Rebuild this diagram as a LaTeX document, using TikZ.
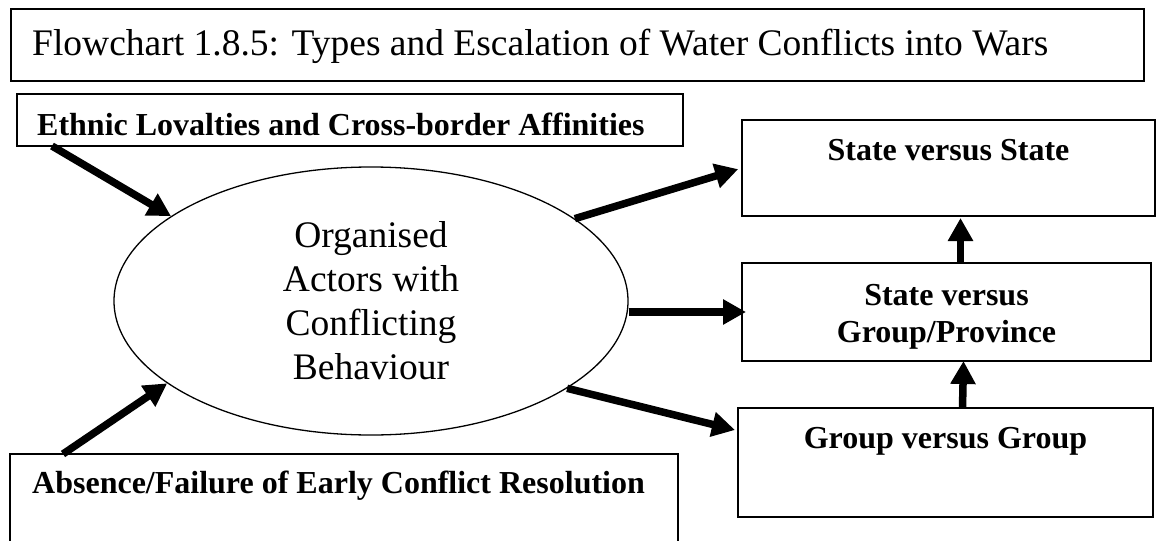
\documentclass[tikz,border=0pt]{standalone}
\usepackage{fontspec}
\setmainfont{Liberation Serif}
\usetikzlibrary{arrows.meta,shapes.geometric,calc}
\begin{document}
\begin{tikzpicture}[x=1pt,y=-1pt,
  boxnode/.style={draw, line width=1.8pt, rectangle, inner sep=0pt, outer sep=0pt, anchor=north west},
  boldtext/.style={font=\fontsize{32}{37}\selectfont\bfseries, inner sep=0pt, anchor=base},
  thickarrow/.style={line width=7.5pt, -{Triangle[length=23pt,width=24pt]}},
]
\fill[white] (0,0) rectangle (1157,541);
\useasboundingbox (0,0) rectangle (1157,541);

% title
\node[boxnode, minimum width=1133pt, minimum height=72pt] (title) at (11,9) {};
\node[anchor=base west, inner sep=0pt, font=\fontsize{37.5}{43}\selectfont] (titletxt) at (32,55) {Flowchart 1.8.5: Types and Escalation of Water Conflicts into Wars};

% left boxes
\node[boxnode, minimum width=666pt, minimum height=52pt] (eth) at (17,94) {};
\node[boldtext, anchor=base west] (ethtxt) at (37,135) {Ethnic Lovalties and Cross-border Affinities};
\node[boxnode, minimum width=668pt, minimum height=110pt] (abs) at (10,454) {};
\node[boldtext, anchor=base west] (abstxt) at (32,493) {Absence/Failure of Early Conflict Resolution};

% right boxes
\node[boxnode, minimum width=413pt, minimum height=96pt] (svs) at (742,120) {};
\node[boldtext] (svstxt) at (948.5,160) {State versus State};
\node[boxnode, minimum width=409pt, minimum height=98pt] (svg) at (742,263) {};
\node[boldtext] (svgtxta) at (946.5,305) {State versus};
\node[boldtext] (svgtxtb) at (946.5,342) {Group/Province};
\node[boxnode, minimum width=415pt, minimum height=109pt] (gvg) at (738,408) {};
\node[boldtext] (gvgtxt) at (945.5,448) {Group versus Group};

% ellipse
\node[ellipse, draw, line width=1.3pt, minimum width=514pt, minimum height=268pt, inner sep=0pt, align=center, font=\fontsize{37.5}{44}\selectfont] (ell) at (371,301) {Organised\\Actors with\\Conflicting\\Behaviour};

% connectors
\coordinate (ethout) at ($(eth.south west)+(35,0)$);
\draw[thickarrow] (ethout) -- (ell.157);
\coordinate (absout) at ($(abs.north west)+(53,0)$);
\draw[thickarrow] (absout) -- (ell.202);
\draw[thickarrow, shorten >=4pt] (ell.22) -- (svs.west);
\draw[thickarrow, shorten >=-4pt] (ell.east |- svg.west) -- (svg.west);
\coordinate (gvgin) at ($(gvg.north west)+(-3,22)$);
\draw[thickarrow] (ell.-24) -- (gvgin);
\draw[thickarrow] ([xshift=14pt]svg.north) -- ([xshift=12pt,yshift=-2pt]svs.south);
\draw[thickarrow] ([xshift=17pt]gvg.north) -- ([xshift=17pt]svg.south);
\end{tikzpicture}
\end{document}
